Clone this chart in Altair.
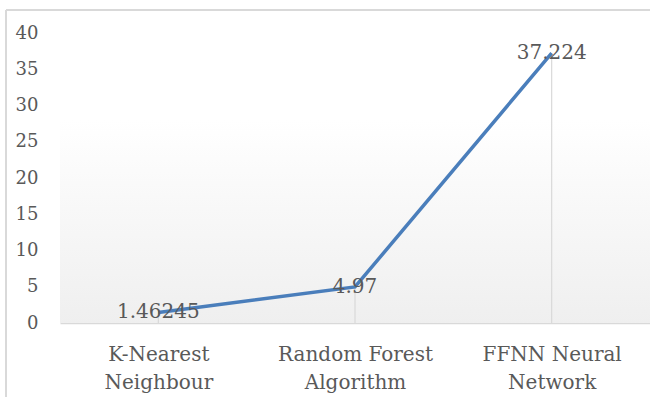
import altair as alt
import pandas as pd

categories = ["K-Nearest Neighbour", "Random Forest Algorithm", "FFNN Neural Network"]
values = [1.46245, 4.97, 37.224]
y_ticks = [0, 5, 10, 15, 20, 25, 30, 35, 40]

df = pd.DataFrame({"cat": categories, "value": values,
                   "label": [str(v) for v in values]})

W, H = 590, 290
FONT = "DejaVu Serif"
TXT = "#595959"
GRID = "#d9d9d9"

x_enc = alt.X("cat:N", sort=categories,
              scale=alt.Scale(type="point", padding=0.5),
              axis=alt.Axis(title=None, labelAngle=0, ticks=False,
                            domainColor=GRID, domainWidth=1.5,
                            labelFont=FONT, labelFontSize=20, labelColor=TXT,
                            labelPadding=21, labelLineHeight=28,
                            labelExpr="[substring(datum.label, 0, lastindexof(datum.label, ' ')), substring(datum.label, lastindexof(datum.label, ' ') + 1)]"))
y_scale = alt.Scale(domain=[0, 40])
y_enc = alt.Y("value:Q", scale=y_scale,
              axis=alt.Axis(title=None, values=y_ticks, grid=False, domain=False,
                            ticks=False, labelFont=FONT, labelFontSize=18,
                            labelColor=TXT, labelPadding=22, labelOverlap=False))

base = alt.Chart(df)

bg = base.mark_rect(color=alt.Gradient(
    gradient="linear", x1=0, x2=0, y1=0, y2=1,
    stops=[alt.GradientStop(color="#ffffff", offset=0),
           alt.GradientStop(color="#ffffff", offset=0.3),
           alt.GradientStop(color="#efefef", offset=1)])).encode(
    x=alt.value(0), x2=alt.value(W), y=alt.value(0), y2=alt.value(H))

border_left = base.mark_rule(color=GRID, strokeWidth=1.5).encode(
    x=alt.value(-54), y=alt.value(-23), y2=alt.value(H + 80))
border_top = base.mark_rule(color=GRID, strokeWidth=1.5).encode(
    x=alt.value(-54), x2=alt.value(W + 20), y=alt.value(-23))

drops = base.mark_rule(color=GRID, strokeWidth=1.2).encode(
    x=x_enc, y=y_enc, y2=alt.datum(0))

line = base.mark_line(color="#4a7ebb", strokeWidth=3.5).encode(x=x_enc, y=y_enc)

labels = base.mark_text(font=FONT, fontSize=20, color=TXT, align="center",
                        baseline="middle").encode(
    x=x_enc, y=y_enc, text="label:N")

chart = alt.layer(bg, drops, border_left, border_top, line, labels).properties(
    width=W, height=H, autosize="none",
    padding={"left": 60, "top": 33, "right": 0, "bottom": 74},
    background="white"
).configure_view(stroke=None)

chart.save("out.html", embed_options={"renderer": "svg", "actions": False})
